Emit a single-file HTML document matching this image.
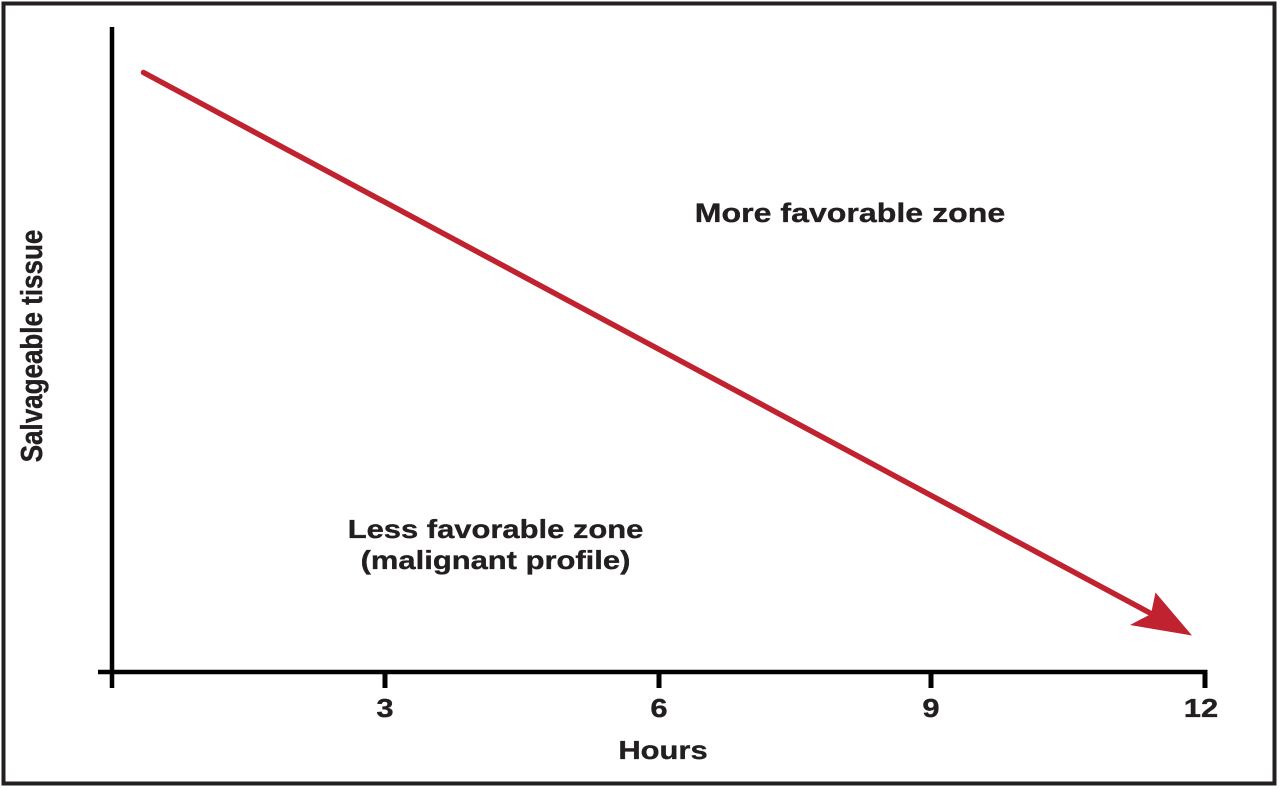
<!DOCTYPE html>
<html>
<head>
<meta charset="utf-8">
<style>
  html, body { margin: 0; padding: 0; background: #ffffff; }
  svg { display: block; }
  text { font-family: "Liberation Sans", Arial, sans-serif; font-weight: bold; fill: #231f20; stroke: #231f20; stroke-width: 0.35; }
</style>
</head>
<body>
<svg width="1280" height="790" viewBox="0 0 1280 790" xmlns="http://www.w3.org/2000/svg">
  <rect x="0" y="0" width="1280" height="790" fill="#ffffff"/>
  <!-- outer frame -->
  <rect x="3.5" y="3.5" width="1271" height="780" fill="none" stroke="#231f20" stroke-width="4"/>

  <!-- axes -->
  <line x1="112" y1="27" x2="112" y2="688" stroke="#000" stroke-width="4.5"/>
  <line x1="98" y1="672" x2="1207.5" y2="672" stroke="#000" stroke-width="4.5"/>
  <!-- ticks -->
  <line x1="385" y1="672" x2="385" y2="688" stroke="#000" stroke-width="5"/>
  <line x1="659" y1="672" x2="659" y2="688" stroke="#000" stroke-width="5"/>
  <line x1="931" y1="672" x2="931" y2="688" stroke="#000" stroke-width="5"/>
  <line x1="1205" y1="670" x2="1205" y2="688" stroke="#000" stroke-width="5"/>

  <!-- tick labels -->
  <g transform="translate(385,717) scale(1.19,1)"><text x="0" y="0" font-size="26" text-anchor="middle">3</text></g>
  <g transform="translate(659,717) scale(1.19,1)"><text x="0" y="0" font-size="26" text-anchor="middle">6</text></g>
  <g transform="translate(931,717) scale(1.19,1)"><text x="0" y="0" font-size="26" text-anchor="middle">9</text></g>
  <g transform="translate(1201,717) scale(1.19,1)"><text x="0" y="0" font-size="26" text-anchor="middle">12</text></g>

  <!-- axis titles -->
  <g transform="translate(663,759) scale(1.19,1)"><text x="0" y="0" font-size="26" text-anchor="middle">Hours</text></g>
  <g transform="translate(42,346) scale(1.19,1) rotate(-90)"><text x="0" y="0" font-size="26" text-anchor="middle">Salvageable tissue</text></g>

  <!-- zone labels -->
  <g transform="translate(850,222) scale(1.19,1)"><text x="0" y="0" font-size="27" text-anchor="middle">More favorable zone</text></g>
  <g transform="translate(495.5,538) scale(1.19,1)"><text x="0" y="0" font-size="26" text-anchor="middle">Less favorable zone</text></g>
  <g transform="translate(495.5,569) scale(1.19,1)"><text x="0" y="0" font-size="26" text-anchor="middle">(malignant profile)</text></g>

  <!-- red arrow -->
  <line x1="143.5" y1="72.5" x2="1150" y2="613" stroke="#c1222f" stroke-width="5.5" stroke-linecap="round"/>
  <polygon points="1192,635.5 1155.5,592.5 1151,614 1130,625" fill="#c1222f"/>
</svg>
</body>
</html>
